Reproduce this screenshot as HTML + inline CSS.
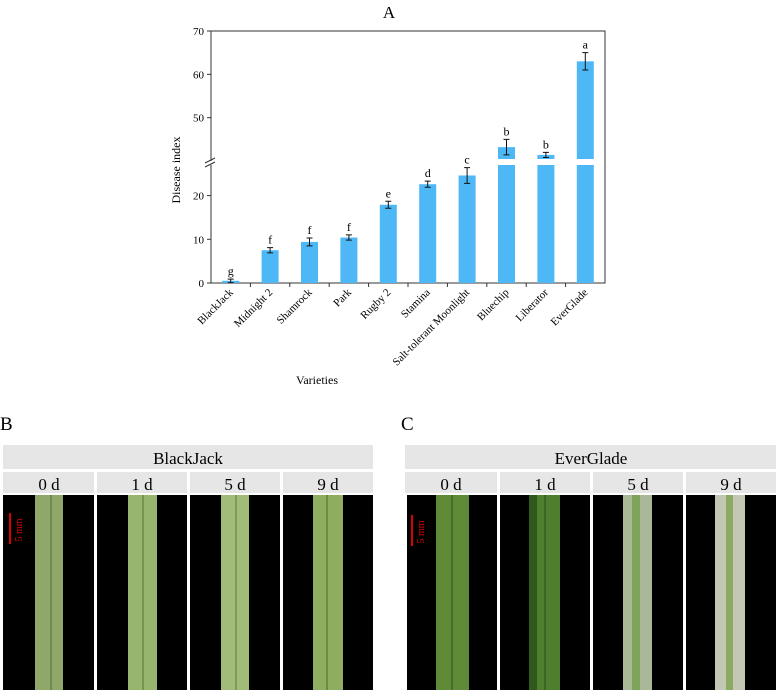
<!DOCTYPE html>
<html><head><meta charset="utf-8"><style>
body{margin:0;background:#fff;width:778px;height:692px;overflow:hidden;font-family:"Liberation Serif",serif}
svg{position:absolute;left:0;top:0}
</style></head><body>
<svg id="chart" width="778" height="692" xmlns="http://www.w3.org/2000/svg" font-family="Liberation Serif, serif">
<text x="389" y="18" font-size="17" text-anchor="middle">A</text>
<text x="0" y="0" font-size="12" text-anchor="middle" transform="translate(180,170) rotate(-90)">Disease index</text>
<text x="317" y="384" font-size="12" text-anchor="middle">Varieties</text>
<g id="plot"></g>

<!-- Panel B -->
<text x="0" y="430" font-size="19">B</text>
<rect x="3" y="445" width="370" height="24" fill="#e6e6e6"/>
<text x="188" y="464" font-size="17" text-anchor="middle">BlackJack</text>
<g font-size="17" text-anchor="middle">
<rect x="3" y="472" width="91" height="21" fill="#e6e6e6"/><text x="49" y="490">0 d</text>
<rect x="97" y="472" width="90" height="21" fill="#e6e6e6"/><text x="142" y="490">1 d</text>
<rect x="190" y="472" width="90" height="21" fill="#e6e6e6"/><text x="235" y="490">5 d</text>
<rect x="283" y="472" width="90" height="21" fill="#e6e6e6"/><text x="328" y="490">9 d</text>
</g>
<g>
<rect x="3" y="495" width="91" height="195" fill="#000"/>
<rect x="35" y="495" width="28" height="195" fill="#8fa86a"/><line x1="51" y1="495" x2="51" y2="690" stroke="#4e6b35" stroke-width="1"/>
<rect x="97" y="495" width="90" height="195" fill="#000"/>
<rect x="128" y="495" width="29" height="195" fill="#98b56e"/><line x1="143" y1="495" x2="143" y2="690" stroke="#557236"/>
<rect x="190" y="495" width="90" height="195" fill="#000"/>
<rect x="221" y="495" width="28" height="195" fill="#a1bb78"/><line x1="236" y1="495" x2="236" y2="690" stroke="#5b7a3a"/>
<rect x="283" y="495" width="90" height="195" fill="#000"/>
<rect x="313" y="495" width="30" height="195" fill="#8ead5e"/><line x1="327" y1="495" x2="327" y2="690" stroke="#4b6a2e"/>
<rect x="9" y="513" width="2" height="31" fill="#d00"/>
<text x="0" y="0" font-size="10" fill="#d00" transform="translate(22,530) rotate(-90)" text-anchor="middle">5 mm</text>
</g>

<!-- Panel C -->
<text x="401" y="430" font-size="19">C</text>
<rect x="405" y="445" width="371" height="24" fill="#e6e6e6"/>
<text x="591" y="464" font-size="17" text-anchor="middle">EverGlade</text>
<g font-size="17" text-anchor="middle">
<rect x="405" y="472" width="92" height="21" fill="#e6e6e6"/><text x="451" y="490">0 d</text>
<rect x="500" y="472" width="90" height="21" fill="#e6e6e6"/><text x="545" y="490">1 d</text>
<rect x="593" y="472" width="90" height="21" fill="#e6e6e6"/><text x="638" y="490">5 d</text>
<rect x="686" y="472" width="90" height="21" fill="#e6e6e6"/><text x="731" y="490">9 d</text>
</g>
<g>
<rect x="407" y="495" width="90" height="195" fill="#000"/>
<rect x="436" y="495" width="33" height="195" fill="#5f8b38"/><line x1="452" y1="495" x2="452" y2="690" stroke="#2f5018"/>
<rect x="500" y="495" width="90" height="195" fill="#000"/>
<rect x="529" y="495" width="31" height="195" fill="#4f7e2e"/><rect x="529" y="495" width="8" height="195" fill="#2f5a1c"/><line x1="545" y1="495" x2="545" y2="690" stroke="#2c4d18"/>
<rect x="593" y="495" width="90" height="195" fill="#000"/>
<rect x="623" y="495" width="29" height="195" fill="#a9b896"/><rect x="632" y="495" width="8" height="195" fill="#7ea35a"/>
<rect x="686" y="495" width="90" height="195" fill="#000"/>
<rect x="715" y="495" width="30" height="195" fill="#c3c8b5"/><rect x="726" y="495" width="7" height="195" fill="#8bab62"/>
<rect x="411" y="515" width="2" height="31" fill="#d00"/>
<text x="0" y="0" font-size="10" fill="#d00" transform="translate(424,532) rotate(-90)" text-anchor="middle">5 mm</text>
</g>
</svg>
<script>
const categories=["BlackJack","Midnight 2","Shamrock","Park","Rugby 2","Stamina","Salt-tolerant Moonlight","Bluechip","Liberator","EverGlade"];
const values=[0.5,7.5,9.4,10.4,17.9,22.6,24.6,43.2,41.4,63];
const errors=[0.4,0.6,0.9,0.6,0.8,0.7,1.8,1.8,0.6,2];
const letters=["g","f","f","f","e","d","c","b","b","a"];
const lowerTicks=[0,10,20];
const upperTicks=[50,60,70];
const NS="http://www.w3.org/2000/svg";
const g=document.getElementById('plot');
const X0=211,X1=605,LB=283,LT=165,LMAX=27,UB=161,UT=31,UMIN=40,UMAX=70;
function yL(v){return LB-(v/LMAX)*(LB-LT);}
function yU(v){return UB-(v-UMIN)/(UMAX-UMIN)*(UB-UT);}
function y(v){return v<=LMAX?yL(v):yU(v);}
const step=(X1-X0)/categories.length;
function xc(i){return X0+step*(i+0.5);}
function el(t,a){const e=document.createElementNS(NS,t);for(const k in a)e.setAttribute(k,a[k]);g.appendChild(e);return e;}
// axes frame
let e=el('path',{d:`M${X0},${LT} V${LB} H${X1} V${UT} H${X0} V${UB}`,fill:'none',stroke:'#333','stroke-width':1});


e=el('rect',{x:X0-6,y:UB,width:12,height:LT-UB,fill:'#fff'});
e=el('path',{d:`M${X0-6},${UB+2} L${X0+4},${UB-3} M${X0-6},${LT+2} L${X0+4},${LT-3}`,stroke:'#333'});


lowerTicks.forEach(t=>{const yy=yL(t);el('line',{x1:X0-4,y1:yy,x2:X0,y2:yy,stroke:'#333'});
 e=el('text',{x:X0-7,y:yy+4,'font-size':11,'text-anchor':'end'});e.textContent=t;
 
 });
upperTicks.forEach(t=>{const yy=yU(t);el('line',{x1:X0-4,y1:yy,x2:X0,y2:yy,stroke:'#333'});
 e=el('text',{x:X0-7,y:yy+4,'font-size':11,'text-anchor':'end'});e.textContent=t;
 
 });
categories.forEach((c,i)=>{
 const cx=xc(i),w=17,v=values[i];
 if(i>0)el('line',{x1:X0+step*i,y1:LB,x2:X0+step*i,y2:LB+4,stroke:'#333'});
 if(v<=LMAX){e=el('rect',{x:cx-w/2,y:yL(v),width:w,height:LB-yL(v),fill:'#4db8f5'});}
 else{e=el('rect',{x:cx-w/2,y:LT,width:w,height:LB-LT,fill:'#4db8f5'});
  e=el('rect',{x:cx-w/2,y:yU(v),width:w,height:UB-2-yU(v),fill:'#4db8f5'});}
 
 
 const t=y(v+errors[i]),b=y(Math.max(0,v-errors[i]));
 el('path',{d:`M${cx},${t}V${b}M${cx-3},${t}H${cx+3}M${cx-3},${b}H${cx+3}`,stroke:'#111','stroke-width':1});
 e=el('text',{x:cx,y:t-4,'font-size':12,'text-anchor':'middle'});e.textContent=letters[i];
 
 
 e=el('text',{x:0,y:0,'font-size':11,'text-anchor':'end',transform:`translate(${cx+3},${LB+10}) rotate(-45)`});e.textContent=c;
 
 
});
</script>
</body></html>
